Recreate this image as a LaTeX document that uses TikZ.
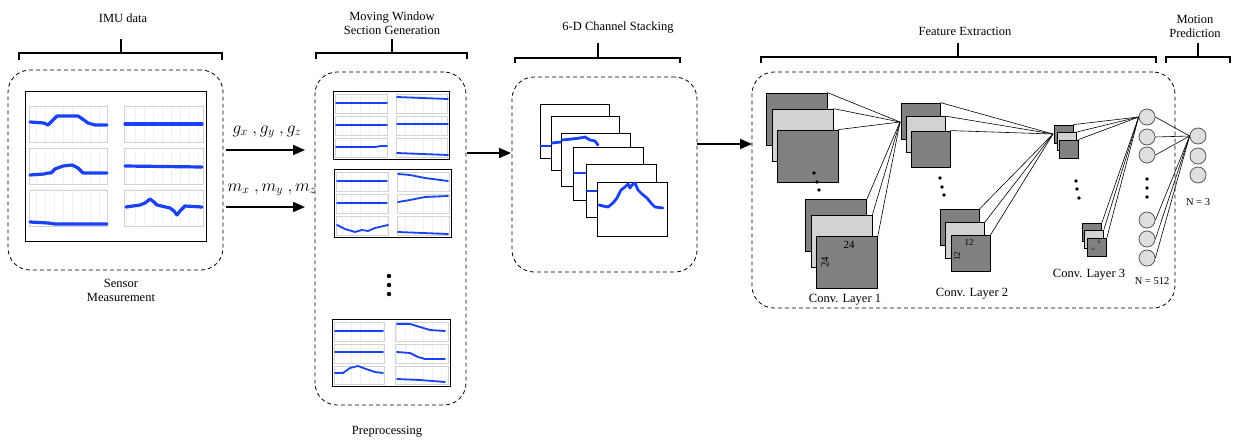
\documentclass[tikz,border=0pt]{standalone}
\usepackage{fontspec}
\setmainfont{Liberation Serif}
\usetikzlibrary{arrows.meta}
\definecolor{sigblue}{RGB}{25,65,245}
\newcommand\mypanel[4]{%
  \draw[gray!12, line width=0.25pt, xstep=9, ystep=7] (#1,#2) grid (#3,#4);
  \draw[gray!35, line width=0.35pt] (#1,#2) rectangle (#3,#4);}
\begin{document}
\begin{tikzpicture}[x=1pt,y=-1pt,
  lbl/.style={font=\fontsize{12.5}{14}\selectfont, inner sep=0, align=center},
  smalllbl/.style={font=\fontsize{10.5}{12}\selectfont, inner sep=0},
  mathlbl/.style={font=\fontsize{18}{20}\selectfont, inner sep=0},
  bracket/.style={line width=1.8pt},
  dbox/.style={draw, dash pattern=on 4pt off 3pt, rounded corners=22pt, line width=0.8pt, inner sep=0},
  arr/.style={line width=1.8pt, -{Triangle[length=12pt,width=10pt]}},
  curve/.style={draw=sigblue, line width=3.2pt, line join=round, line cap=round},
  stackcurve/.style={draw=sigblue, line width=2.8pt, line join=round, line cap=round},
  thincurve/.style={draw=sigblue, line width=1.8pt, line join=round, line cap=round},
  frame/.style={draw, line width=1pt, fill=white},
  fmD/.style={draw, fill=gray, line width=0.8pt, inner sep=0},
  fmL/.style={draw, fill=gray!35, line width=0.8pt, inner sep=0},
  neuron/.style={circle, draw=black!65, fill=gray!25, line width=0.8pt, minimum size=16pt, inner sep=0},
  conn/.style={line width=0.6pt}
]
\useasboundingbox[fill=white] (0,0) rectangle (1238,442);

% ---------- titles and brackets ----------
\node[lbl] (t1) at (123,18) {IMU data};
\draw[bracket] (19,60) -- (19,53) -- (222,53) -- (222,60);
\draw[bracket] (121,53) -- (121,39);

\node[lbl] (t2) at (392,23) {Moving Window\\Section Generation};
\draw[bracket] (316,59) -- (316,53) -- (467,53) -- (467,59);
\draw[bracket] (392,53) -- (392,39);

\node[lbl] (t3) at (618,28) {6-D Channel Stacking};
\draw[bracket] (515,63) -- (515,58) -- (680,58) -- (680,63);
\draw[bracket] (598,58) -- (598,43);

\node[lbl] (t4) at (965,31) {Feature Extraction};
\draw[bracket] (761,63) -- (761,57) -- (1156,57) -- (1156,63);
\draw[bracket] (958,57) -- (958,43);

\node[lbl] (t5) at (1195,26) {Motion\\Prediction};
\draw[bracket] (1166,63) -- (1166,57) -- (1230,57) -- (1230,63);
\draw[bracket] (1198,57) -- (1198,43);

% ---------- dashed group boxes ----------
\node[dbox, minimum width=215pt, minimum height=200pt] (imu) at (115.5,170) {};
\node[dbox, minimum width=151pt, minimum height=333pt] (mw) at (390.5,238.5) {};
\node[dbox, minimum width=185pt, minimum height=195pt] (stack) at (604.5,174.5) {};
\node[dbox, minimum width=423pt, minimum height=236pt] (fe) at (963.5,190) {};

\node[lbl] (s1) at (121,290) {Sensor\\Measurement};
\node[lbl] (s2) at (387,432) {Preprocessing};

% ---------- sensor measurement image ----------
\draw[frame] (25,91) rectangle (206,241);
\mypanel{29}{106}{107}{142}\mypanel{124}{106}{203}{142}
\mypanel{29}{148}{107}{184}\mypanel{124}{148}{203}{184}
\mypanel{29}{190}{107}{226}\mypanel{124}{190}{203}{226}
\draw[curve] plot coordinates {(30,122) (44,123) (48,125) (52,121) (57,116) (78,116) (84,120) (88,123) (95,125) (107,125)};
\draw[curve] plot coordinates {(125,124) (202,124)};
\draw[curve] plot coordinates {(30,175) (44,174) (48,173) (51,173) (55,169) (63,166) (72,165) (78,168) (83,173) (107,173)};
\draw[curve] plot coordinates {(125,166) (202,167)};
\draw[curve] plot coordinates {(30,222) (48,223) (55,224) (107,224)};
\draw[curve] plot coordinates {(126,207) (140,205) (145,203) (150,199) (154,202) (157,205) (170,208) (174,211) (177,215) (180,211) (185,206) (202,207)};

% ---------- arrows with signal labels ----------
\coordinate (a1s) at (226,150); \coordinate (a1e) at (305,150);
\coordinate (a2s) at (226,207); \coordinate (a2e) at (305,207);
\coordinate (a3s) at (467,153); \coordinate (a3e) at (511,153);
\coordinate (a4s) at (697,144); \coordinate (a4e) at (752,144);
\draw[arr] (a1s) -- (a1e);
\draw[arr] (a2s) -- (a2e);
\draw[arr] (a3s) -- (a3e);
\draw[arr] (a4s) -- (a4e);
\node[mathlbl] (g) at (267,132) {$g_x\ ,g_y\ ,g_z$};
\node[mathlbl] (m) at (272,190) {$m_x\ ,m_y\ ,m_z$};

% ---------- moving window sections ----------
\draw[frame] (333,91) rectangle (449,159);
\mypanel{335}{94}{387}{113}\mypanel{396}{94}{447}{113}
\mypanel{335}{116}{387}{135}\mypanel{396}{116}{447}{135}
\mypanel{335}{138}{387}{157}\mypanel{396}{138}{447}{157}
\draw[thincurve] plot coordinates {(336,103) (387,103)};
\draw[thincurve] plot coordinates {(397,97) (448,99)};
\draw[thincurve] plot coordinates {(336,125) (387,125)};
\draw[thincurve] plot coordinates {(397,124) (448,124)};
\draw[thincurve] plot coordinates {(336,147) (375,147) (381,146) (387,146)};
\draw[thincurve] plot coordinates {(397,153) (448,155)};

\draw[frame] (334,169) rectangle (451,237);
\mypanel{336}{172}{388}{191}\mypanel{397}{172}{449}{191}
\mypanel{336}{194}{388}{213}\mypanel{397}{194}{449}{213}
\mypanel{336}{216}{388}{235}\mypanel{397}{216}{449}{235}
\draw[thincurve] plot coordinates {(337,181) (387,181)};
\draw[thincurve] plot coordinates {(398,174) (410,175) (425,178) (448,181)};
\draw[thincurve] plot coordinates {(337,203) (387,203)};
\draw[thincurve] plot coordinates {(398,202) (410,200) (425,197) (448,196)};
\draw[thincurve] plot coordinates {(337,225) (345,229) (355,232) (362,230) (368,231) (375,228) (388,225)};
\draw[thincurve] plot coordinates {(398,232) (448,234)};

\fill (389,276) circle (2.2) (389,285) circle (2.2) (389,294) circle (2.2);

\draw[frame] (332,319) rectangle (450,386);
\mypanel{334}{322}{384}{341}\mypanel{395}{322}{448}{341}
\mypanel{334}{344}{384}{363}\mypanel{395}{344}{448}{363}
\mypanel{334}{366}{384}{384}\mypanel{395}{366}{448}{384}
\draw[thincurve] plot coordinates {(335,331) (383,331)};
\draw[thincurve] plot coordinates {(397,324) (410,324) (420,327) (430,330) (445,331)};
\draw[thincurve] plot coordinates {(335,352) (383,352)};
\draw[thincurve] plot coordinates {(397,352) (410,353) (418,357) (425,359) (445,359)};
\draw[thincurve] plot coordinates {(335,373) (343,373) (350,368) (358,366) (366,369) (375,372) (383,373)};
\draw[thincurve] plot coordinates {(397,379) (420,380) (445,382)};

% ---------- 6-D channel stack ----------
\draw[frame] (540,104) rectangle (609,158);
\draw[stackcurve] plot coordinates {(541,146) (551,146)};
\draw[frame] (551,116) rectangle (619,170);
\draw[stackcurve] plot coordinates {(552,143) (561,142)};
\draw[frame] (561,133) rectangle (630,186);
\draw[stackcurve] plot coordinates {(562,140) (572,139) (580,138) (585,137) (590,140) (595,141) (598,145)};
\draw[frame] (573,147) rectangle (643,200);
\draw[stackcurve] plot coordinates {(574,173) (586,173)};
\draw[frame] (586,164) rectangle (656,217);
\draw[stackcurve] plot coordinates {(587,191) (597,191)};
\draw[frame] (597,182) rectangle (667,236);
\draw[stackcurve] plot coordinates {(599,205) (603,206) (608,207) (613,203) (617,198) (621,190) (625,187) (628,184) (630,188) (632,185) (635,183) (638,190) (642,194) (647,198) (651,203) (655,207) (663,208)};

% ---------- CNN: conv layer 1 ----------
\tikzset{c1/.style={minimum width=61pt, minimum height=52pt},
         c2/.style={minimum width=39pt, minimum height=36pt},
         c3/.style={minimum width=19pt, minimum height=18pt}}
\node[fmD,c1] (c1a) at (796.5,119) {};
\node[fmL,c1] (c1b) at (802.5,135) {};
\node[fmD,c1] (c1c) at (807.5,156) {};
\node[fmD,c1] (c1d) at (836,225.5) {};
\node[fmL,c1] (c1e) at (841.5,241) {};
\node[fmD,c1] (c1f) at (847,262) {};
\fill (814,173) circle (1.9) (817,182) circle (1.9) (819,190) circle (1.9);
\node[inner sep=0, font=\fontsize{11}{12}\selectfont] (n24a) at (849,245) {24};
\node[inner sep=0, font=\fontsize{11}{12}\selectfont, rotate=90] (n24b) at (825,262) {24};
\node[lbl] (l1) at (845,300) {Conv. Layer 1};
\coordinate (p1) at (900,122);
\foreach \s in {a,b,c,d,e,f} \draw[conn] (c1\s.north east) -- (p1);

% ---------- conv layer 2 ----------
\node[fmD,c2] (c2a) at (920.5,121) {};
\node[fmL,c2] (c2b) at (925.5,134.5) {};
\node[fmD,c2] (c2c) at (930.5,149) {};
\node[fmD,c2] (c2d) at (959.5,227.5) {};
\node[fmL,c2] (c2e) at (965,240.5) {};
\node[fmD,c2] (c2f) at (970.5,253.5) {};
\fill (940,178) circle (1.9) (942,187) circle (1.9) (944,195) circle (1.9);
\node[inner sep=0, font=\fontsize{9}{10}\selectfont] (n12a) at (969,243) {12};
\node[inner sep=0, font=\fontsize{9}{10}\selectfont, rotate=90] (n12b) at (957,256) {12};
\node[lbl] (l2) at (972,294) {Conv. Layer 2};
\coordinate (p2) at (1053,134);
\foreach \s in {a,b,c,d,e,f} \draw[conn] (c2\s.north east) -- (p2);

% ---------- conv layer 3 ----------
\node[fmD,c3] (c3a) at (1063.5,134) {};
\node[fmL,c3] (c3b) at (1066.5,141.5) {};
\node[fmD,c3] (c3c) at (1068.5,149) {};
\node[fmD,c3] (c3d) at (1092,232) {};
\node[fmL,c3] (c3e) at (1094,239) {};
\node[fmD,c3] (c3f) at (1097,247) {};
\fill (1076,181) circle (1.9) (1077,189) circle (1.9) (1079,198) circle (1.9);
\node[inner sep=0, font=\fontsize{5}{6}\selectfont] (n6a) at (1099,242) {6};
\node[inner sep=0, font=\fontsize{5}{6}\selectfont, rotate=90] (n6b) at (1093,249) {6};
\node[lbl] (l3) at (1089,275) {Conv. Layer 3};

% ---------- fully connected ----------
\node[neuron] (h1) at (1147,117) {};
\node[neuron] (h2) at (1147,137) {};
\node[neuron] (h3) at (1147,155) {};
\node[neuron] (h4) at (1147,220) {};
\node[neuron] (h5) at (1147,239) {};
\node[neuron] (h6) at (1147,258) {};
\fill (1147,179) circle (1.9) (1147,188) circle (1.9) (1147,197) circle (1.9);
\node[smalllbl] (nh) at (1152,281) {N = 512};
\foreach \s in {a,b,c,d,e,f} \draw[conn] (c3\s.north east) -- (h1.west);

\node[neuron] (o1) at (1198,136) {};
\node[neuron] (o2) at (1198,156) {};
\node[neuron] (o3) at (1198,175) {};
\node[smalllbl] (no) at (1198,202) {N = 3};
\foreach \i in {1,...,6} \draw[conn] (h\i.east) -- (o1.west);
\end{tikzpicture}
\end{document}
